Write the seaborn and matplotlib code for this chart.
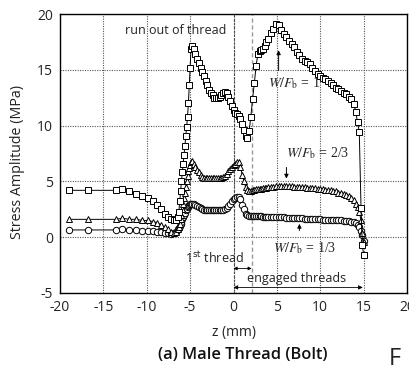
import matplotlib
matplotlib.use("Agg")
import matplotlib.pyplot as plt
import numpy as np
import pandas as pd
import seaborn as sns

# ---------------- data ----------------
z_mm = [
    -19.0, -16.8, -13.6, -12.8, -12.0, -11.2, -10.5, -9.9, -9.3, -8.8, -8.3, -7.9, -7.5, -7.2, -6.9,
    -6.6, -6.4, -6.3, -6.2, -6.1, -6.0, -5.9, -5.8, -5.7, -5.6, -5.5, -5.4, -5.3, -5.2, -5.1, -5.0, -4.9,
    -4.8, -4.6, -4.4, -4.2, -4.0, -3.8, -3.6, -3.4, -3.2, -3.0, -2.8, -2.6, -2.4, -2.2, -2.0,
    -1.8, -1.6, -1.4, -1.2, -1.0, -0.8, -0.6, -0.4, -0.2, 0.0, 0.2, 0.4, 0.6, 0.8, 1.0,
    1.2, 1.4, 1.6, 1.8, 2.0, 2.2, 2.4, 2.6, 2.8, 3.0, 3.2, 3.4, 3.6, 3.8, 4.0,
    4.3, 4.6, 4.9, 5.2, 5.5, 5.8, 6.1, 6.4, 6.7, 7.0, 7.3, 7.6, 7.9, 8.2, 8.5, 8.8, 9.1, 9.4,
    9.7, 10.0, 10.3, 10.6, 10.9, 11.2, 11.5, 11.8, 12.1, 12.4, 12.7, 13.0, 13.3, 13.6, 13.9, 14.1, 14.3, 14.5,
    14.7, 14.85, 15.0,
]

stress_w1 = [
    4.2, 4.2, 4.2, 4.3, 4.1, 3.9, 3.7, 3.5, 3.2, 2.9, 2.5, 2.1, 1.8, 1.6, 1.5,
    1.5, 1.8, 2.3, 3.2, 4.1, 5.0, 5.8, 6.6, 7.4, 8.2, 9.1, 9.9, 10.8, 12.0, 13.6, 15.2, 16.9,
    17.1, 16.9, 16.4, 16.0, 15.6, 15.2, 14.8, 14.4, 14.0, 13.6, 13.2, 12.9, 12.7, 12.5, 12.5,
    12.5, 12.6, 12.7, 12.9, 13.0, 12.9, 12.6, 12.2, 11.8, 11.4, 11.1, 11.0, 10.9, 10.6, 10.1,
    9.6, 9.1, 8.9, 9.5, 10.8, 12.4, 13.8, 15.3, 16.4, 16.7, 16.8, 16.9, 17.1, 17.5, 17.8,
    18.3, 18.7, 19.1, 19.0, 18.6, 18.2, 17.9, 17.6, 17.3, 17.0, 16.6, 16.3, 16.0, 15.8, 15.7, 15.5, 15.2, 14.9,
    14.6, 14.4, 14.3, 14.2, 14.0, 13.8, 13.6, 13.4, 13.3, 13.1, 12.9, 12.8, 12.6, 12.4, 11.9, 11.2, 10.3, 9.4,
    2.6, -0.7, -1.6,
]

stress_w23 = [
    1.6, 1.6, 1.6, 1.7, 1.6, 1.6, 1.5, 1.5, 1.4, 1.3, 1.1, 0.9, 0.7, 0.5, 0.4,
    0.5, 0.7, 0.9, 1.2, 1.6, 2.0, 2.5, 3.0, 3.5, 4.0, 4.5, 5.0, 5.5, 5.9, 6.2, 6.5, 6.7,
    6.8, 6.6, 6.3, 6.0, 5.8, 5.6, 5.4, 5.3, 5.3, 5.3, 5.3, 5.3, 5.3, 5.3, 5.3,
    5.3, 5.3, 5.3, 5.4, 5.5, 5.7, 5.9, 6.1, 6.3, 6.5, 6.6, 6.7, 6.7, 6.3, 5.6,
    5.0, 4.5, 4.2, 4.1, 4.1, 4.2, 4.2, 4.3, 4.3, 4.3, 4.3, 4.4, 4.4, 4.4, 4.5,
    4.5, 4.5, 4.6, 4.6, 4.6, 4.6, 4.6, 4.6, 4.6, 4.5, 4.5, 4.5, 4.5, 4.5, 4.4, 4.4, 4.4, 4.4,
    4.3, 4.3, 4.3, 4.2, 4.2, 4.2, 4.1, 4.1, 4.0, 4.0, 3.9, 3.8, 3.7, 3.5, 3.3, 3.0, 2.7, 2.3,
    1.5, 0.4, -0.4,
]

stress_w13 = [
    0.65, 0.65, 0.65, 0.75, 0.65, 0.65, 0.6, 0.6, 0.55, 0.5, 0.45, 0.4, 0.35, 0.3, 0.35,
    0.5, 0.7, 0.85, 1.0, 1.2, 1.4, 1.6, 1.8, 2.0, 2.2, 2.4, 2.55, 2.7, 2.8, 2.9, 3.0, 3.0,
    3.0, 2.95, 2.9, 2.8, 2.7, 2.6, 2.5, 2.45, 2.4, 2.4, 2.4, 2.4, 2.4, 2.4, 2.4,
    2.4, 2.4, 2.4, 2.45, 2.5, 2.6, 2.8, 3.0, 3.2, 3.4, 3.5, 3.6, 3.6, 3.4, 2.9,
    2.5, 2.1, 1.95, 1.9, 1.9, 1.9, 1.9, 1.9, 1.9, 1.9, 1.9, 1.85, 1.85, 1.85, 1.85,
    1.85, 1.85, 1.8, 1.8, 1.8, 1.8, 1.75, 1.75, 1.75, 1.7, 1.7, 1.7, 1.7, 1.65, 1.65, 1.65, 1.6, 1.6,
    1.6, 1.6, 1.55, 1.55, 1.55, 1.5, 1.5, 1.5, 1.5, 1.5, 1.45, 1.45, 1.45, 1.4, 1.35, 1.25, 1.1, 0.9,
    0.6, 0.2, -0.3,
]

series_labels = ["W/Fb = 1", "W/Fb = 2/3", "W/Fb = 1/3"]
series_markers = ["s", "^", "o"]
x_ticks = [-20, -15, -10, -5, 0, 5, 10, 15, 20]
y_ticks = [-5, 0, 5, 10, 15, 20]

# ---------------- style ----------------
sns.set_theme(style="white")
plt.rcParams["font.family"] = ["Open Sans", "DejaVu Sans"]
plt.rcParams["mathtext.fontset"] = "stix"
plt.rcParams["axes.unicode_minus"] = False

frames = []
for vals, lab in zip([stress_w1, stress_w23, stress_w13], series_labels):
    frames.append(pd.DataFrame({"z": z_mm, "stress": vals, "series": lab}))
df = pd.concat(frames, ignore_index=True)

W, H = 409, 369
fig = plt.figure(figsize=(W / 100, H / 100), dpi=100)
ax = fig.add_axes([60 / W, 1 - 293 / H, (407 - 60) / W, (293 - 14) / H])

ax.grid(True, linestyle=(0, (1, 1.2)), color="#555555", linewidth=0.8)
ax.axvline(0, color="#444444", linestyle=(0, (2, 1.5)), linewidth=0.8, zorder=1)
ax.axvline(2.1, color="#999999", linestyle=(0, (3, 2)), linewidth=1.0, zorder=1)

sns.lineplot(
    data=df, x="z", y="stress", style="series",
    markers=dict(zip(series_labels, series_markers)), dashes=False,
    style_order=series_labels[::-1],
    color="black", estimator=None, sort=False, legend=False, ax=ax,
    linewidth=0.7, markersize=4.6, markerfacecolor="white",
    markeredgecolor="black", markeredgewidth=0.7, zorder=3,
)

ax.set_xlim(-20, 20)
ax.set_ylim(-5, 20)
ax.set_xticks(x_ticks)
ax.set_yticks(y_ticks)
ax.tick_params(direction="in", length=3, width=0.8, labelsize=10, pad=5, colors="#222222")
for sp in ax.spines.values():
    sp.set_color("black")
    sp.set_linewidth(1.0)
    sp.set_visible(True)

ax.set_xlabel("z (mm)", fontsize=10, labelpad=7, color="#222222")
ax.set_ylabel("Stress Amplitude (MPa)", fontsize=10.3, labelpad=9, color="#222222")
ax.yaxis.set_label_coords(-0.10, 0.47)

# ---------------- annotations ----------------
ax.text(-12.5, 18.5, "run out of thread", fontsize=9, va="center", ha="left", color="#222222")

serif = ["Liberation Serif", "DejaVu Serif"]
ax.text(4.0, 13.8, r"$W/F_{\rm b}$ = 1", fontsize=10, family=serif, va="center", ha="left")
ax.annotate("", xy=(5.2, 17.0), xytext=(5.2, 14.7),
            arrowprops=dict(arrowstyle="-|>", color="black", lw=0.7, mutation_scale=6))
ax.text(6.1, 7.5, r"$W/F_{\rm b}$ = 2/3", fontsize=10, family=serif, va="center", ha="left")
ax.annotate("", xy=(6.1, 5.0), xytext=(6.1, 6.5),
            arrowprops=dict(arrowstyle="-|>", color="black", lw=0.7, mutation_scale=6))
ax.text(4.5, -1.0, r"$W/F_{\rm b}$ = 1/3", fontsize=10, family=serif, va="center", ha="left")
ax.annotate("", xy=(7.6, 1.45), xytext=(7.6, 0.35),
            arrowprops=dict(arrowstyle="-|>", color="black", lw=0.7, mutation_scale=6))

ax.text(-5.6, -1.9, r"1$^{\rm st}$ thread", fontsize=9, va="center", ha="left",
        math_fontfamily="dejavusans", color="#222222")
ax.annotate("", xy=(0, -2.8), xytext=(2.1, -2.8),
            arrowprops=dict(arrowstyle="<|-|>", color="black", lw=0.6, mutation_scale=5,
                            shrinkA=0, shrinkB=0))
ax.text(1.6, -3.7, "engaged threads", fontsize=9, va="center", ha="left", color="#222222")
ax.annotate("", xy=(0, -4.5), xytext=(14.9, -4.5),
            arrowprops=dict(arrowstyle="<|-|>", color="black", lw=0.6, mutation_scale=6,
                            shrinkA=0, shrinkB=0))

fig.text(243 / W, 1 - 355 / H, "(a) Male Thread (Bolt)", fontsize=11.8, fontweight="semibold",
         ha="center", va="center", color="#111111")
fig.text(389 / W, 1 - 359 / H, "F", fontsize=17, ha="left", va="center", color="#222222")

fig.savefig("out.png", dpi=100)
